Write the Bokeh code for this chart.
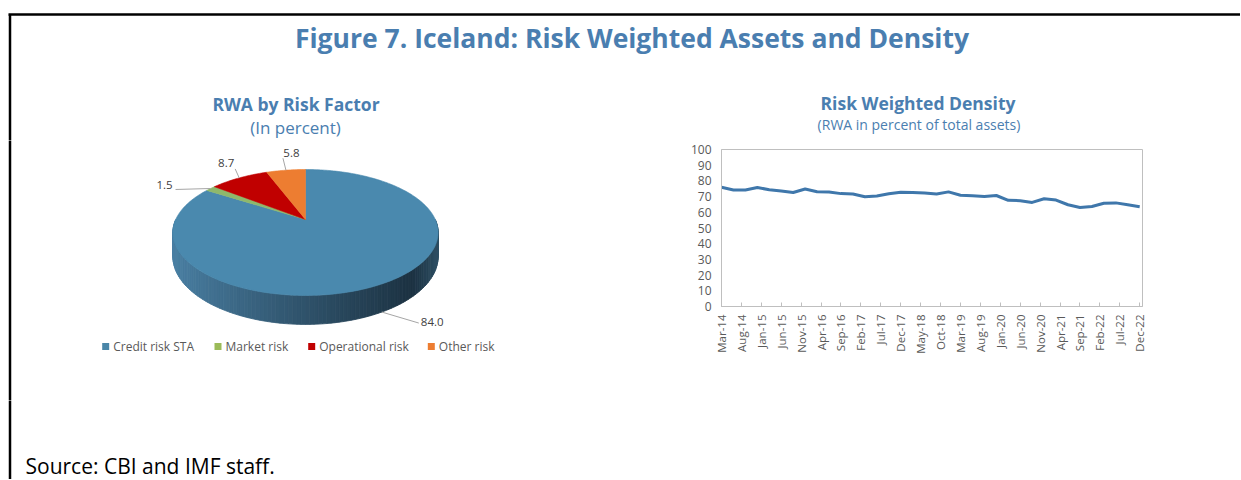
import numpy as np
import pandas as pd
from bokeh.plotting import figure
from bokeh.layouts import column, row
from bokeh.models import Range1d, FixedTicker
from bokeh.core.properties import value
from bokeh.embed import file_html
from bokeh.resources import INLINE

# ---------------- data ----------------
pie_categories = ["Credit risk STA", "Market risk", "Operational risk", "Other risk"]
pie_values = [84.0, 1.5, 8.7, 5.8]

quarters = ["Mar-14", "Jun-14", "Sep-14", "Dec-14",
            "Mar-15", "Jun-15", "Sep-15", "Dec-15",
            "Mar-16", "Jun-16", "Sep-16", "Dec-16",
            "Mar-17", "Jun-17", "Sep-17", "Dec-17",
            "Mar-18", "Jun-18", "Sep-18", "Dec-18",
            "Mar-19", "Jun-19", "Sep-19", "Dec-19",
            "Mar-20", "Jun-20", "Sep-20", "Dec-20",
            "Mar-21", "Jun-21", "Sep-21", "Dec-21",
            "Mar-22", "Jun-22", "Sep-22", "Dec-22"]
density = [75.9, 74.2, 74.2, 75.8, 74.4, 73.6, 72.6, 74.8, 73.1, 72.9, 71.9, 71.7,
           69.9, 70.4, 71.8, 72.8, 72.6, 72.3, 71.7, 73.0, 70.9, 70.5, 70.1, 70.7,
           67.6, 67.4, 66.3, 68.6, 67.8, 64.8, 63.1, 63.7, 65.8, 66.0, 64.8, 63.5]

tick_labels = ["Mar-14", "Aug-14", "Jan-15", "Jun-15", "Nov-15", "Apr-16", "Sep-16",
               "Feb-17", "Jul-17", "Dec-17", "May-18", "Oct-18", "Mar-19", "Aug-19",
               "Jan-20", "Jun-20", "Nov-20", "Apr-21", "Sep-21", "Feb-22", "Jul-22",
               "Dec-22"]
y_ticks = [0, 10, 20, 30, 40, 50, 60, 70, 80, 90, 100]

main_title = "Figure 7. Iceland: Risk Weighted Assets and Density"
pie_title = "RWA by Risk Factor"
pie_subtitle = "(In percent)"
line_title = "Risk Weighted Density"
line_subtitle = "(RWA in percent of total assets)"
source_text = "Source: CBI and IMF staff."

# ---------------- styles ----------------
FONT = "Open Sans"
BLUE = "#4a7eb0"
PIE_COLORS = ["#4a89ae", "#8fb86b", "#c00000", "#ed7d31"]
LEG_COLORS = ["#4a86a8", "#9bbb59", "#c00000", "#ed7d31"]
LINE_COLOR = "#3f77ab"
GREY_TXT = "#595959"
W = 1240
H_HDR, H_MID, H_FTR = 140, 260, 79
W_PIE = 618
W_LINE = W - W_PIE
BORDER_X = 9.5


def month_index(lbl):
    d = pd.to_datetime(lbl, format="%b-%y")
    return (d.year - 2014) * 12 + d.month - 3


def blank_fig(w, h):
    f = figure(width=w, height=h, x_range=Range1d(0, w), y_range=Range1d(h, 0),
               output_backend="svg", toolbar_location=None, min_border=0,
               x_axis_location=None, y_axis_location=None, title=None,
               outline_line_color=None, background_fill_color="white",
               border_fill_color="white", frame_align=False)
    f.grid.visible = False
    return f


# ---------------- header (all titles) ----------------
hdr = blank_fig(W, H_HDR)
hdr.segment(x0=[8, BORDER_X], y0=[14, 14], x1=[W + 5, BORDER_X], y1=[14, H_HDR + 5],
            line_color="black", line_width=2.5)
hdr.text(x=[631.5], y=[37], text=[main_title], text_align="center", text_baseline="middle",
         text_font=value(FONT), text_font_style="bold", text_font_size="26.5px", text_color=BLUE)
hdr.text(x=[295.5, 917.5], y=[103, 102], text=[pie_title, line_title], text_align="center",
         text_baseline="middle", text_font=value(FONT), text_font_style="bold",
         text_font_size="17.5px", text_color=BLUE)
hdr.text(x=[295], y=[127], text=[pie_subtitle], text_align="center", text_baseline="middle",
         text_font=value(FONT), text_font_size="17px", text_color=BLUE)
hdr.text(x=[918.5], y=[124], text=[line_subtitle], text_align="center", text_baseline="middle",
         text_font=value(FONT), text_font_size="14px", text_color=BLUE)

# ---------------- pie panel ----------------
pie = blank_fig(W_PIE, H_MID)
pie.segment(x0=[BORDER_X], y0=[-5], x1=[BORDER_X], y1=[H_MID + 5], line_color="black",
            line_width=2.5)

CX, CY, A, B, P, D = 305.0, 79.0, 129.8, 60.3, 0.206, 23.0


def proj(theta_deg, drop=0.0):
    t = np.radians(theta_deg)
    X, Z = np.sin(t), np.cos(t)
    s = 1.0 / (1.0 + P * Z)
    return CX + A * X * s, CY - B * Z * s + drop * s


def mix(c1, c2, t):
    a = [int(c1[i:i + 2], 16) for i in (1, 3, 5)]
    b = [int(c2[i:i + 2], 16) for i in (1, 3, 5)]
    return "#" + "".join("%02x" % int(round(a[k] + (b[k] - a[k]) * t)) for k in range(3))


# side wall (front half belongs to the first slice)
wall_xs, wall_ys, wall_cols = [], [], []
angs = np.linspace(90, 270, 121)
xmin, xmax = CX - A * 1.03, CX + A * 1.03
for a0, a1 in zip(angs[1:][::-1], angs[:-1][::-1]):
    x0t, y0t = proj(a0)
    x1t, y1t = proj(a1)
    x0b, y0b = proj(a0, D)
    x1b, y1b = proj(a1, D)
    wall_xs.append([x0t, x1t, x1b, x0b])
    wall_ys.append([y0t, y1t, y1b, y0b])
    tt = ((x0t + x1t) / 2 - xmin) / (xmax - xmin)
    if tt < 0.9:
        c = mix("#4a80a4", "#1c3242", min(1.0, tt / 0.9) ** 0.9)
    else:
        c = mix("#1c3242", "#2e4f64", (tt - 0.9) / 0.1)
    wall_cols.append(c)
pie.patches(wall_xs, wall_ys, fill_color=wall_cols, line_color=wall_cols, line_width=0.8)

# top face slices (clockwise from 12 o'clock)
total = sum(pie_values)
bounds = np.concatenate([[0], np.cumsum(pie_values)]) / total * 360.0
sl_xs, sl_ys = [], []
for i in range(len(pie_values)):
    th = np.linspace(bounds[i], bounds[i + 1], max(3, int((bounds[i + 1] - bounds[i]) / 1.0) + 2))
    px, py = proj(th)
    sl_xs.append([CX] + list(px))
    sl_ys.append([CY] + list(py))
pie.patches(sl_xs, sl_ys, fill_color=PIE_COLORS, line_color=PIE_COLORS, line_width=0.6)

# data labels with leader lines
mids = (bounds[:-1] + bounds[1:]) / 2
drops = [D, 0, 0, 0]
lead_off = [(37, 11), (-35, 1), (-4, -9), (-3, -12)]
txt_off = [(2, -1), (-3, -4), (-9, -6), (8.5, -5)]
txt_align = ["left", "right", "center", "center"]
for i, v in enumerate(pie_values):
    sx, sy = proj(mids[i], drops[i])
    ex, ey = sx + lead_off[i][0], sy + lead_off[i][1]
    pie.segment(x0=[sx], y0=[sy], x1=[ex], y1=[ey], line_color="#a6a6a6", line_width=1)
    pie.text(x=[ex + txt_off[i][0]], y=[ey + txt_off[i][1]], text=["%.1f" % v],
             text_align=txt_align[i], text_baseline="middle", text_font=value(FONT),
             text_font_size="11.5px", text_color="#404040")

# legend
leg_x = [101.7, 214, 307.7, 427.3]
leg_y = 206
pie.rect(x=[x + 3.5 for x in leg_x], y=[leg_y] * 4, width=7, height=7,
         fill_color=LEG_COLORS, line_color=None)
pie.text(x=[x + 11 for x in leg_x], y=[leg_y] * 4, text=pie_categories, text_align="left",
         text_baseline="middle", text_font=value(FONT), text_font_size="12px",
         text_color=GREY_TXT)

# ---------------- line panel ----------------
xs = [month_index(q) for q in quarters]
tick_pos = [month_index(t) for t in tick_labels]

lp = figure(width=W_LINE, height=H_MID, x_range=Range1d(0, 105.7), y_range=Range1d(0, 100),
            output_backend="svg", toolbar_location=None, title=None,
            min_border_left=103, min_border_right=W_LINE - 524, min_border_top=9,
            min_border_bottom=94, frame_align=False,
            outline_line_color="#bfbfbf", outline_line_width=1,
            background_fill_color="white", border_fill_color="white")
lp.grid.visible = False
lp.line(xs, density, line_color=LINE_COLOR, line_width=3, line_join="round")

lp.xaxis.ticker = FixedTicker(ticks=tick_pos)
lp.xaxis.major_label_overrides = {p: l for p, l in zip(tick_pos, tick_labels)}
lp.xaxis.major_label_orientation = np.pi / 2
lp.xaxis.minor_tick_line_color = None
lp.xaxis.major_tick_in = 4
lp.xaxis.major_tick_out = 0
lp.xaxis.major_tick_line_color = "#bfbfbf"
lp.xaxis.axis_line_color = "#bfbfbf"
lp.xaxis.major_label_standoff = 8
lp.xaxis.major_label_text_font_size = "11.5px"

lp.yaxis.ticker = FixedTicker(ticks=y_ticks)
lp.yaxis.minor_tick_line_color = None
lp.yaxis.major_tick_in = 0
lp.yaxis.major_tick_out = 0
lp.yaxis.axis_line_color = "#bfbfbf"
lp.yaxis.major_label_standoff = 10
lp.yaxis.major_label_text_font_size = "12px"

for ax in (lp.xaxis, lp.yaxis):
    ax.major_label_text_font = FONT
    ax.major_label_text_color = GREY_TXT

# ---------------- footer ----------------
ftr = blank_fig(W, H_FTR)
ftr.segment(x0=[BORDER_X], y0=[-5], x1=[BORDER_X], y1=[H_FTR + 5], line_color="black",
            line_width=2.5)
ftr.text(x=[25], y=[65], text=[source_text], text_align="left", text_baseline="middle",
         text_font=value(FONT), text_font_size="21px", text_color="black")

layout = column(hdr, row(pie, lp, spacing=0), ftr, spacing=0)
open("out.html", "w").write(file_html(layout, INLINE))
